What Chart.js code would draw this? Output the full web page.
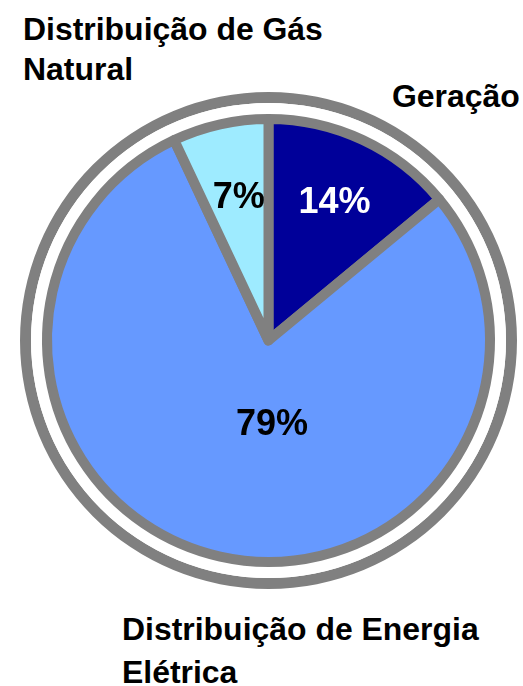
<!DOCTYPE html>
<html>
<head>
<meta charset="utf-8">
<script src="https://cdn.jsdelivr.net/npm/chart.js@4"></script>
<style>
  body { margin: 0; background: #fff; width: 523px; height: 686px; position: relative; overflow: hidden; }
  #wrap { position: absolute; left: 20px; top: 92px; width: 497px; height: 497px; }
  .lbl { position: absolute; font-family: "Liberation Sans", Arial, sans-serif; font-weight: bold; font-size: 31px; color: #000; white-space: nowrap; transform: scaleX(1.03); transform-origin: left top; }
  #lbl-gas { left: 23px; top: 10px; line-height: 40px; }
  #lbl-ger { left: 392px; top: 77px; line-height: 40px; }
  #lbl-ene { left: 122px; top: 608px; line-height: 43px; }
</style>
</head>
<body>
<div id="lbl-gas" class="lbl"></div>
<div id="lbl-ger" class="lbl"></div>
<div id="lbl-ene" class="lbl"></div>
<div id="wrap"><canvas id="pie" width="497" height="497"></canvas></div>
<script>
const labels = ['Geração', 'Distribuição de Energia Elétrica', 'Distribuição de Gás Natural'];
const shares = [14, 79, 7];
const sliceColors = ['#000099', '#6699ff', '#9eebff'];
const pctColors = ['#ffffff', '#000000', '#000000'];

// where each % label sits: fraction of the radius, and a turn (deg) off the slice middle
const labelDist = [0.70, 0.37, 0.67];
const labelTurn = [0, -15, 1];

document.getElementById('lbl-ger').textContent = labels[0];
document.getElementById('lbl-ene').innerHTML = 'Distribuição de Energia<br>Elétrica';
document.getElementById('lbl-gas').innerHTML = 'Distribuição de Gás<br>Natural';

const pctLabels = {
  id: 'pctLabels',
  afterDatasetsDraw(chart) {
    const meta = chart.getDatasetMeta(2);
    const ctx = chart.ctx;
    ctx.save();
    ctx.font = 'bold 36px "Liberation Sans", Arial, sans-serif';
    ctx.textAlign = 'center';
    ctx.textBaseline = 'alphabetic';
    meta.data.forEach((arc, i) => {
      const p = arc.getProps(['x', 'y', 'startAngle', 'endAngle', 'outerRadius'], true);
      const a = (p.startAngle + p.endAngle) / 2 + labelTurn[i] * Math.PI / 180;
      const r = p.outerRadius * labelDist[i];
      const x = p.x + Math.cos(a) * r;
      const y = p.y + Math.sin(a) * r;
      ctx.fillStyle = pctColors[i];
      ctx.fillText(shares[i] + '%', x, y + 13);
    });
    ctx.restore();
  }
};

const noHover = { borderWidth: 0, hoverBorderWidth: 0, offset: 0, hoverOffset: 0 };

new Chart(document.getElementById('pie'), {
  type: 'pie',
  data: {
    labels: labels,
    datasets: [
      // outer grey ring
      { data: [1], backgroundColor: '#808080', hoverBackgroundColor: '#808080', weight: 11, order: 2, ...noHover },
      // white gap
      { data: [1], backgroundColor: '#ffffff', hoverBackgroundColor: '#ffffff', weight: 16, order: 1, ...noHover },
      {
        data: shares,
        backgroundColor: sliceColors,
        hoverBackgroundColor: sliceColors,
        borderColor: '#808080',
        hoverBorderColor: '#808080',
        borderWidth: 10,
        hoverBorderWidth: 10,
        borderJoinStyle: 'round',
        offset: 0,
        hoverOffset: 0,
        weight: 221.5,
        order: 0
      }
    ]
  },
  options: {
    responsive: false,
    animation: false,
    events: [],
    layout: { padding: 0 },
    plugins: {
      legend: { display: false },
      tooltip: { enabled: false }
    }
  },
  plugins: [pctLabels]
});
</script>
</body>
</html>
